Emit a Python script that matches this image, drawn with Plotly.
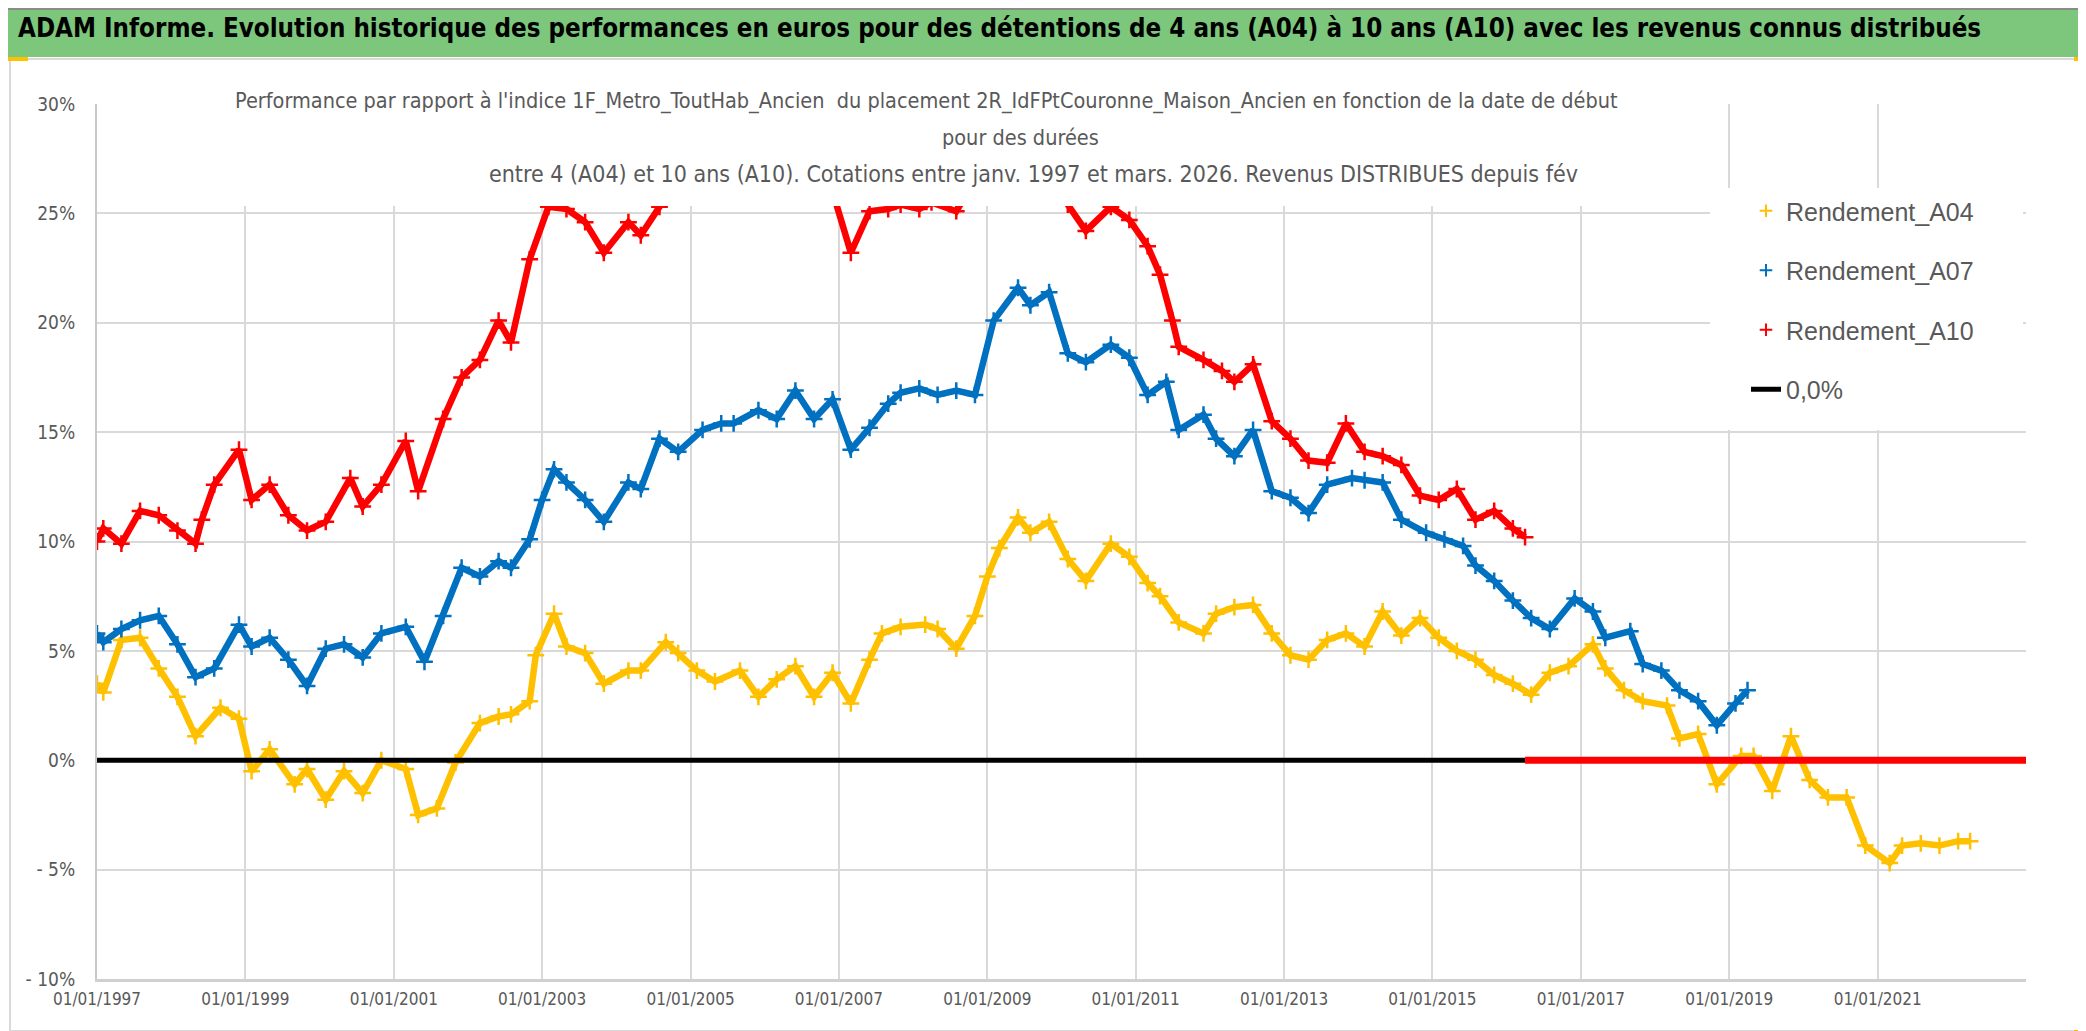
import plotly.graph_objects as go

# ---------------- data (values in %) ----------------
a04_dates = ["1997-01", "1997-02", "1997-05", "1997-08", "1997-11", "1998-02", "1998-05", "1998-09",
             "1998-12", "1999-02", "1999-05", "1999-09", "1999-11", "2000-02", "2000-05", "2000-08",
             "2000-11", "2001-03", "2001-05", "2001-08", "2001-11", "2002-03", "2002-06", "2002-08",
             "2002-11", "2002-12", "2003-03", "2003-05", "2003-08", "2003-11", "2004-03", "2004-05",
             "2004-09", "2004-11", "2005-02", "2005-05", "2005-09", "2005-12", "2006-03", "2006-06",
             "2006-09", "2006-12", "2007-03", "2007-06", "2007-08", "2007-11", "2008-03", "2008-05",
             "2008-08", "2008-11", "2009-01", "2009-03", "2009-06", "2009-08", "2009-11", "2010-02",
             "2010-05", "2010-09", "2010-12", "2011-03", "2011-05", "2011-08", "2011-12", "2012-02",
             "2012-05", "2012-08", "2012-11", "2013-02", "2013-05", "2013-08", "2013-11", "2014-02",
             "2014-05", "2014-08", "2014-11", "2015-02", "2015-05", "2015-08", "2015-11", "2016-02",
             "2016-05", "2016-08", "2016-11", "2017-03", "2017-05", "2017-08", "2017-11", "2018-03",
             "2018-05", "2018-08", "2018-11", "2019-03", "2019-05", "2019-08", "2019-11", "2020-02",
             "2020-05", "2020-08", "2020-11", "2021-03", "2021-05", "2021-08", "2021-11", "2022-02",
             "2022-04"]
a04_values = [3.5, 3.1, 5.5, 5.6, 4.2, 2.9, 1.1, 2.4,
              1.9, -0.5, 0.5, -1.1, -0.4, -1.8, -0.5, -1.5,
              0.0, -0.4, -2.5, -2.2, -0.1, 1.7, 2.0, 2.1,
              2.7, 4.8, 6.7, 5.2, 4.9, 3.5, 4.1, 4.1,
              5.4, 4.9, 4.1, 3.6, 4.1, 2.9, 3.7, 4.3,
              2.9, 4.0, 2.6, 4.6, 5.8, 6.1, 6.2, 6.0,
              5.1, 6.6, 8.4, 9.7, 11.1, 10.4, 10.9, 9.2,
              8.2, 9.9, 9.3, 8.1, 7.5, 6.3, 5.8, 6.7,
              7.0, 7.1, 5.8, 4.8, 4.6, 5.5, 5.8, 5.2,
              6.8, 5.7, 6.5, 5.6, 5.0, 4.6, 3.9, 3.5,
              3.0, 4.0, 4.3, 5.3, 4.2, 3.2, 2.7, 2.5,
              1.0, 1.2, -1.1, 0.2, 0.2, -1.4, 1.1, -0.9,
              -1.7, -1.7, -3.9, -4.7, -3.9, -3.8, -3.9, -3.7,
              -3.7]

a07_dates = ["1997-01", "1997-02", "1997-05", "1997-08", "1997-11", "1998-02", "1998-05", "1998-08",
             "1998-12", "1999-02", "1999-05", "1999-08", "1999-11", "2000-02", "2000-05", "2000-08",
             "2000-11", "2001-03", "2001-06", "2001-09", "2001-12", "2002-03", "2002-06", "2002-08",
             "2002-11", "2003-01", "2003-03", "2003-05", "2003-08", "2003-11", "2004-03", "2004-05",
             "2004-08", "2004-11", "2005-03", "2005-06", "2005-08", "2005-12", "2006-03", "2006-06",
             "2006-09", "2006-12", "2007-03", "2007-06", "2007-09", "2007-11", "2008-02", "2008-05",
             "2008-08", "2008-11", "2009-02", "2009-06", "2009-08", "2009-11", "2010-02", "2010-05",
             "2010-09", "2010-12", "2011-03", "2011-06", "2011-08", "2011-12", "2012-02", "2012-05",
             "2012-08", "2012-11", "2013-02", "2013-05", "2013-08", "2013-12", "2014-02", "2014-05",
             "2014-08", "2014-12", "2015-03", "2015-06", "2015-08", "2015-11", "2016-02", "2016-05",
             "2016-08", "2016-12", "2017-03", "2017-05", "2017-09", "2017-11", "2018-02", "2018-05",
             "2018-08", "2018-11", "2019-02", "2019-04"]
a07_values = [5.8, 5.4, 6.0, 6.4, 6.6, 5.3, 3.8, 4.2,
              6.2, 5.2, 5.6, 4.6, 3.4, 5.1, 5.3, 4.7,
              5.8, 6.1, 4.5, 6.6, 8.8, 8.4, 9.1, 8.8,
              10.1, 11.9, 13.3, 12.7, 11.9, 10.9, 12.7, 12.4,
              14.7, 14.1, 15.1, 15.4, 15.4, 16.0, 15.6, 16.9,
              15.6, 16.5, 14.2, 15.2, 16.3, 16.8, 17.0, 16.7,
              16.9, 16.7, 20.1, 21.6, 20.8, 21.4, 18.6, 18.2,
              19.0, 18.4, 16.7, 17.3, 15.1, 15.8, 14.7, 13.9,
              15.1, 12.3, 12.0, 11.3, 12.6, 12.9, 12.8, 12.7,
              11.0, 10.4, 10.1, 9.8, 8.9, 8.2, 7.3, 6.5,
              6.0, 7.4, 6.8, 5.6, 5.9, 4.4, 4.1, 3.2,
              2.7, 1.6, 2.6, 3.2]

a10_dates = ["1997-01", "1997-02", "1997-05", "1997-08", "1997-11", "1998-02", "1998-05", "1998-06",
             "1998-08", "1998-12", "1999-02", "1999-05", "1999-08", "1999-11", "2000-02", "2000-06",
             "2000-08", "2000-11", "2001-03", "2001-05", "2001-09", "2001-12", "2002-03", "2002-06",
             "2002-08", "2002-11", "2003-02", "2003-05", "2003-08", "2003-11", "2004-03", "2004-05",
             "2004-08", "2004-11", "2005-03", "2005-08", "2006-01", "2006-06", "2006-10", "2006-12",
             "2007-03", "2007-06", "2007-09", "2007-11", "2008-02", "2008-04", "2008-08", "2008-11",
             "2009-03", "2009-07", "2009-10", "2010-02", "2010-05", "2010-09", "2010-12", "2011-03",
             "2011-05", "2011-07", "2011-08", "2011-12", "2012-03", "2012-05", "2012-08", "2012-11",
             "2013-02", "2013-05", "2013-08", "2013-11", "2014-02", "2014-05", "2014-08", "2014-11",
             "2015-02", "2015-05", "2015-08", "2015-11", "2016-02", "2016-04"]
a10_values = [10.0, 10.6, 9.9, 11.4, 11.2, 10.5, 9.9, 11.0,
              12.6, 14.2, 11.9, 12.6, 11.2, 10.5, 10.9, 12.9,
              11.6, 12.6, 14.6, 12.3, 15.6, 17.5, 18.3, 20.1,
              19.1, 22.9, 25.3, 25.2, 24.6, 23.2, 24.6, 24.0,
              25.3, 27.0, 28.0, 28.5, 28.0, 29.0, 27.5, 26.0,
              23.2, 25.1, 25.2, 25.4, 25.2, 25.5, 25.1, 26.5,
              28.0, 28.5, 27.0, 25.4, 24.2, 25.3, 24.7, 23.5,
              22.2, 20.1, 18.9, 18.3, 17.8, 17.3, 18.1, 15.5,
              14.7, 13.7, 13.6, 15.4, 14.1, 13.9, 13.5, 12.1,
              11.9, 12.4, 11.0, 11.4, 10.6, 10.2]
a10_tail_dates = ["2016-04", "2023-01"]
a10_tail_values = [0.0, 0.0]

zero_dates = ["1997-01", "2016-04"]
zero_values = [0.0, 0.0]

series_names = ["Rendement_A04", "Rendement_A07", "Rendement_A10"]
series_colors = ["#FFC000", "#0070C0", "#FF0000"]
zero_name = "0,0%"

ytick_vals = [-10, -5, 0, 5, 10, 15, 20, 25, 30]
ytick_text = ["- 10%", "- 5%", "0%", "5%", "10%", "15%", "20%", "25%", "30%"]
xtick_vals = ["1997-01-01", "1999-01-01", "2001-01-01", "2003-01-01", "2005-01-01", "2007-01-01",
              "2009-01-01", "2011-01-01", "2013-01-01", "2015-01-01", "2017-01-01", "2019-01-01",
              "2021-01-01"]

title_text = ("ADAM Informe. Evolution historique des performances en euros pour des détentions "
              "de 4 ans (A04) à 10 ans (A10) avec les revenus connus distribués")
subtitle_lines = [
    "Performance par rapport à l'indice 1F_Metro_ToutHab_Ancien  du placement "
    "2R_IdFPtCouronne_Maison_Ancien en fonction de la date de début",
    "pour des durées",
    "entre 4 (A04) et 10 ans (A10). Cotations entre janv. 1997 et mars. 2026. Revenus DISTRIBUES depuis fév",
]

# ---------------- layout geometry ----------------
W, H = 2086, 1031
ML, MR, MT, MB = 89, 68, 96, 60
PW = W - ML - MR
PH = H - MT - MB


def px(xp):
    return (xp - ML) / PW


def py(yp):
    return (H - MB - yp) / PH


NARROW = "Liberation Sans Narrow, Arial Narrow, DejaVu Sans Condensed, sans-serif"
GREY = "#595959"

fig = go.Figure()

for d, v, c in [(a04_dates, a04_values, series_colors[0]),
                (a07_dates, a07_values, series_colors[1]),
                (a10_dates, a10_values, series_colors[2])]:
    fig.add_trace(go.Scatter(
        x=d, y=v, mode="lines+markers", showlegend=False, hoverinfo="skip",
        line=dict(color=c, width=6.5),
        marker=dict(symbol="cross-thin-open", size=12, color=c, line=dict(width=2.5, color=c)),
    ))

fig.add_trace(go.Scatter(
    x=zero_dates, y=zero_values, mode="lines", name=zero_name,
    line=dict(color="black", width=5), legendrank=4, legendgroup="d",
))
fig.add_trace(go.Scatter(
    x=a10_tail_dates, y=a10_tail_values, mode="lines", showlegend=False,
    line=dict(color=series_colors[2], width=7),
))

for i, (n, c) in enumerate(zip(series_names, series_colors)):
    fig.add_trace(go.Scatter(
        x=[None], y=[None], mode="markers", name=n, legendrank=i + 1, legendgroup=n,
        marker=dict(symbol="cross-thin-open", size=9, color=c, line=dict(width=2, color=c)),
    ))

shapes = [
    # green title bar
    dict(type="rect", xref="paper", yref="paper", x0=px(0), x1=px(W), y0=py(49), y1=py(0),
         fillcolor="#7CC77C", line=dict(width=0), layer="below"),
    dict(type="line", xref="paper", yref="paper", x0=px(0), x1=px(W), y0=py(1), y1=py(1),
         line=dict(color="#8a8a8a", width=2)),
    # chart area border
    dict(type="rect", xref="paper", yref="paper", x0=px(2), x1=px(2080), y0=py(1023), y1=py(51),
         line=dict(color="#d9d9d9", width=2), fillcolor="rgba(0,0,0,0)", layer="below"),
    dict(type="line", xref="paper", yref="paper", x0=px(0), x1=px(W), y0=py(1029), y1=py(1029),
         line=dict(color="#9a9a9a", width=2)),
    # subtitle background
    dict(type="rect", xref="paper", yref="paper", x0=px(217), x1=px(1622), y0=py(198), y1=py(70),
         fillcolor="white", line=dict(width=0), layer="above"),
    # legend background
    dict(type="rect", xref="paper", yref="paper", x0=px(1702), x1=px(2015), y0=py(422), y1=py(180),
         fillcolor="white", line=dict(width=0), layer="above"),
    # selection handles
    dict(type="rect", xref="paper", yref="paper", x0=px(0), x1=px(20), y0=py(53), y1=py(49),
         fillcolor="#FFC000", line=dict(width=0)),
    dict(type="rect", xref="paper", yref="paper", x0=px(2066), x1=px(2086), y0=py(53), y1=py(49),
         fillcolor="#FFC000", line=dict(width=0)),
    dict(type="rect", xref="paper", yref="paper", x0=px(2080), x1=px(2086), y0=py(67), y1=py(49),
         fillcolor="#FFC000", line=dict(width=0)),
    dict(type="rect", xref="paper", yref="paper", x0=px(2078), x1=px(2086), y0=py(1031), y1=py(970),
         fillcolor="#FFC000", line=dict(width=0)),
    dict(type="rect", xref="paper", yref="paper", x0=px(2066), x1=px(2086), y0=py(1031), y1=py(1022),
         fillcolor="#FFC000", line=dict(width=0)),
    dict(type="rect", xref="paper", yref="paper", x0=px(0), x1=px(22), y0=py(1031), y1=py(1023),
         fillcolor="#FFC000", line=dict(width=0)),
]

annotations = [
    dict(text="<b>" + title_text + "</b>", xref="paper", yref="paper", x=px(8), y=py(20),
         xanchor="left", yanchor="middle", showarrow=False,
         font=dict(family=NARROW, size=25.7, color="black")),
]
sub_specs = [(918, 93, 21.5), (1012, 129, 21.5), (1025, 166, 23)]
for line, (cx, cy, fs) in zip(subtitle_lines, sub_specs):
    annotations.append(dict(text=line, xref="paper", yref="paper", x=px(cx), y=py(cy),
                            xanchor="center", yanchor="middle", showarrow=False,
                            font=dict(family=NARROW, size=fs, color=GREY)))

fig.update_layout(
    width=W, height=H,
    margin=dict(l=ML, r=MR, t=MT, b=MB, pad=0),
    paper_bgcolor="white", plot_bgcolor="white",
    shapes=shapes, annotations=annotations,
    showlegend=True,
    legend=dict(x=px(1738), y=py(180), xanchor="left", yanchor="top",
                bgcolor="rgba(0,0,0,0)", borderwidth=0, tracegroupgap=24,
                font=dict(family="Liberation Sans, Arial, sans-serif", size=25, color=GREY)),
    xaxis=dict(type="date", range=["1997-01-01", "2023-01-01"], tickmode="array",
               tickvals=xtick_vals, tickformat="%d/%m/%Y", showgrid=True, gridcolor="#d9d9d9",
               gridwidth=1.5, showline=True, linecolor="#d0d0d0", linewidth=3, ticks="",
               ticklabelstandoff=3, zeroline=False,
               tickfont=dict(family=NARROW, size=17, color=GREY)),
    yaxis=dict(range=[-10, 30], tickmode="array", tickvals=ytick_vals, ticktext=ytick_text,
               showgrid=True, gridcolor="#d9d9d9", gridwidth=1.5, showline=True,
               linecolor="#c8c8c8", linewidth=2, ticks="", ticklabelstandoff=16, zeroline=False,
               tickfont=dict(family=NARROW, size=19, color=GREY)),
)

fig.write_html("out.html")
